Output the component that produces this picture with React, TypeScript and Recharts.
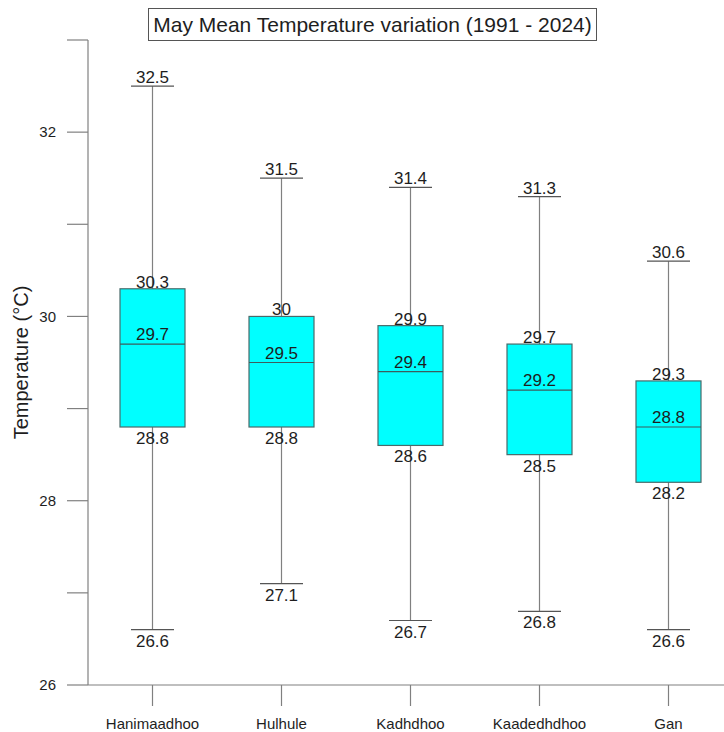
import { ComposedChart, Bar, XAxis, YAxis } from 'recharts';

const stations = ['Hanimaadhoo', 'Hulhule', 'Kadhdhoo', 'Kaadedhdhoo', 'Gan'];
const minValues = [26.6, 27.1, 26.7, 26.8, 26.6];
const q1Values = [28.8, 28.8, 28.6, 28.5, 28.2];
const medianValues = [29.7, 29.5, 29.4, 29.2, 28.8];
const q3Values = [30.3, 30.0, 29.9, 29.7, 29.3];
const maxValues = [32.5, 31.5, 31.4, 31.3, 30.6];
const yTicks = [26, 27, 28, 29, 30, 31, 32, 33];

const data = stations.map((name, i) => ({
  name,
  min: minValues[i],
  q1: q1Values[i],
  median: medianValues[i],
  q3: q3Values[i],
  max: maxValues[i],
  range: [minValues[i], maxValues[i]],
}));

const FONT = 'Arial, "Liberation Sans", sans-serif';
const LINE = '#808080';
const TEXT = '#1e1e1e';

// draws one box + whiskers inside the range bar's rectangle
const BoxShape = (props: any) => {
  const { x, y, width, height, payload } = props;
  const { min, q1, median, q3, max } = payload;
  const py = (v: number) => y + ((max - v) / (max - min)) * height;
  const cx = x + width / 2;
  const capHalf = 21.5;
  return (
    <g fontFamily={FONT} fontSize={17} fill={TEXT}>
      <line x1={cx} x2={cx} y1={py(max)} y2={py(min)} stroke={LINE} strokeWidth={1.2} />
      <line x1={cx - capHalf} x2={cx + capHalf} y1={py(max)} y2={py(max)} stroke="#555" strokeWidth={1.2} />
      <line x1={cx - capHalf} x2={cx + capHalf} y1={py(min)} y2={py(min)} stroke="#555" strokeWidth={1.2} />
      <rect x={x} y={py(q3)} width={width} height={py(q1) - py(q3)} fill="#00FFFF" stroke="#4a6a6a" strokeWidth={1.2} />
      <line x1={x} x2={x + width} y1={py(median)} y2={py(median)} stroke="#3d5c5c" strokeWidth={1.2} />
      <text x={cx} y={py(max) - 3} textAnchor="middle">{String(max)}</text>
      <text x={cx} y={py(q3) - 1} textAnchor="middle">{String(q3)}</text>
      <text x={cx} y={py(median) - 4} textAnchor="middle">{String(median)}</text>
      <text x={cx} y={py(q1) + 17} textAnchor="middle">{String(q1)}</text>
      <text x={cx} y={py(min) + 17} textAnchor="middle">{String(min)}</text>
    </g>
  );
};

const YLabel = (props: any) => {
  const { viewBox } = props;
  const cy = viewBox.y + viewBox.height / 2;
  return (
    <text
      x={21}
      y={cy}
      transform={`rotate(-90, 21, ${cy})`}
      textAnchor="middle"
      dominantBaseline="central"
      fontFamily={FONT}
      fontSize={20}
      fill={TEXT}
    >
      Temperature (°C)
    </text>
  );
};

export default function App() {
  return (
    <div style={{ position: 'absolute', left: 0, top: 0, width: 724, height: 732, overflow: 'hidden', background: '#fff' }}>
      <div
        style={{
          position: 'absolute',
          left: 148,
          top: 8,
          width: 447,
          height: 31,
          border: '1px solid #555',
          fontFamily: FONT,
          fontSize: 21,
          lineHeight: '31px',
          textAlign: 'center',
          color: TEXT,
          background: '#fff',
          zIndex: 1,
        }}
      >
        May Mean Temperature variation (1991 - 2024)
      </div>
      <ComposedChart width={740} height={732} data={data} margin={{ top: 40, right: 7, bottom: 0, left: 0 }}>
        <XAxis
          dataKey="name"
          height={47}
          tickSize={21}
          tickMargin={12}
          axisLine={{ stroke: LINE, strokeWidth: 1.2 }}
          tickLine={{ stroke: LINE, strokeWidth: 1.2 }}
          tick={{ fontFamily: FONT, fontSize: 15, fill: TEXT }}
          interval={0}
        />
        <YAxis
          type="number"
          domain={[26, 33]}
          ticks={yTicks}
          width={88}
          tickSize={21}
          tickMargin={11}
          tickFormatter={(v: number) => (v % 2 === 0 ? String(v) : '')}
          axisLine={{ stroke: LINE, strokeWidth: 1.2 }}
          tickLine={{ stroke: LINE, strokeWidth: 1.2 }}
          tick={{ fontFamily: FONT, fontSize: 15, fill: TEXT }}
          label={<YLabel />}
        />
        <Bar dataKey="range" barSize={65} shape={<BoxShape />} isAnimationActive={false} />
      </ComposedChart>
    </div>
  );
}
